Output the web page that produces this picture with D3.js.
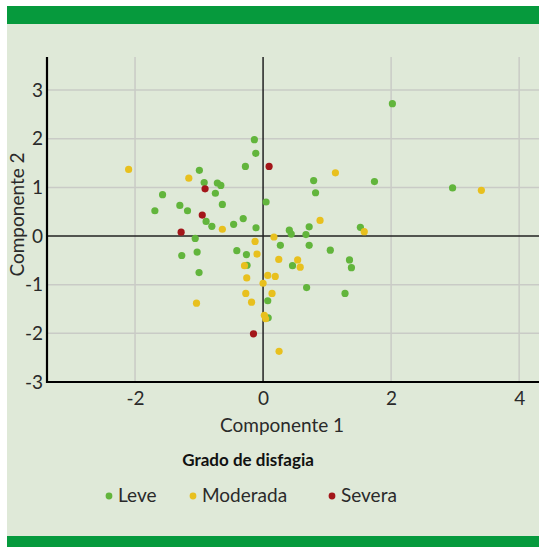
<!DOCTYPE html>
<html><head><meta charset="utf-8">
<script src="https://cdn.jsdelivr.net/npm/d3@7"></script>
<style>
html,body{margin:0;padding:0;background:#fff;}
svg{display:block;font-family:Lato,"Open Sans",sans-serif;}
</style></head>
<body>
<svg id="chart" width="539" height="547"></svg>
<script>
// Data (Componente 1, Componente 2)
const leve = [
 [-0.136,1.98],[-0.114,1.70],[-0.276,1.43],[-0.995,1.35],[-0.92,1.10],[-0.714,1.09],[-0.66,1.04],
 [-1.57,0.85],[-0.745,0.88],[0.047,0.70],[-1.30,0.63],[-0.636,0.65],[-1.69,0.52],[-1.18,0.52],
 [-0.31,0.36],[-0.89,0.30],[-0.80,0.20],[-0.46,0.24],[-0.11,0.17],[-1.06,-0.05],[-1.03,-0.33],
 [-1.27,-0.40],[-0.41,-0.30],[-0.26,-0.38],[-0.25,-0.60],[-1.0,-0.75],[0.073,-1.33],[0.08,-1.68],
 [2.02,2.72],[0.79,1.14],[1.74,1.12],[0.82,0.89],[2.96,0.99],[0.72,0.19],[0.41,0.12],[0.44,0.04],
 [0.67,0.03],[1.52,0.18],[0.27,-0.19],[0.72,-0.19],[1.05,-0.29],[1.35,-0.49],[0.46,-0.61],
 [1.38,-0.65],[0.68,-1.06],[1.28,-1.18]
];
const moderada = [
 [-2.10,1.37],[-1.16,1.19],[-0.636,0.14],[-0.125,-0.11],[-0.094,-0.37],[-0.29,-0.61],[0.073,-0.81],
 [-0.255,-0.86],[0.0,-0.97],[-0.27,-1.18],[0.14,-1.18],[-0.18,-1.36],[-1.04,-1.38],[0.02,-1.63],
 [0.04,-1.70],[1.13,1.30],[3.41,0.94],[0.89,0.32],[0.17,-0.02],[1.58,0.09],[0.245,-0.48],
 [0.54,-0.49],[0.58,-0.64],[0.19,-0.83],[0.25,-2.37]
];
const severa = [
 [0.094,1.43],[-0.906,0.97],[-0.95,0.43],[-1.28,0.08],[-0.15,-2.01]
];
const xTicks = [-2,0,2,4];
const yTicks = [-3,-2,-1,0,1,2,3];
const groups = ["Leve","Moderada","Severa"];
const colors = ["#62b53c","#e8c01e","#a3161a"];
const series = [leve, moderada, severa];

const svg = d3.select("#chart");
// panel
svg.append("rect").attr("x",7).attr("y",6).attr("width",532).attr("height",541).attr("fill","#dfe9d8");
svg.append("rect").attr("x",7).attr("y",6).attr("width",532).attr("height",18).attr("fill","#069a3d");
svg.append("rect").attr("x",7).attr("y",536).attr("width",532).attr("height",11).attr("fill","#069a3d");

const L=47, R=539, T=57, B=382;
const x = d3.scaleLinear().domain([-3.375,4.31]).range([L,R]);
const y = d3.scaleLinear().domain([-3,3.68]).range([B,T]);

// grid
const g = svg.append("g");
g.selectAll(".vg").data(xTicks.filter(d=>d!==0)).join("line")
 .attr("x1",d=>x(d)).attr("x2",d=>x(d)).attr("y1",T).attr("y2",B)
 .attr("stroke","#c9cbc6").attr("stroke-width",1.5);
g.selectAll(".hg").data(yTicks.filter(d=>d!==0 && d!==-3)).join("line")
 .attr("x1",L).attr("x2",R).attr("y1",d=>y(d)).attr("y2",d=>y(d))
 .attr("stroke","#c9cbc6").attr("stroke-width",1.5);
// zero lines
g.append("line").attr("x1",x(0)).attr("x2",x(0)).attr("y1",T).attr("y2",B).attr("stroke","#222").attr("stroke-width",1.5);
g.append("line").attr("x1",L).attr("x2",R).attr("y1",y(0)).attr("y2",y(0)).attr("stroke","#222").attr("stroke-width",1.5);

// axes
const fmt = d => String(d);
const xAxis = svg.append("g").attr("transform",`translate(0,${B})`)
 .call(d3.axisBottom(x).tickValues(xTicks).tickSize(0).tickPadding(10).tickFormat(fmt));
const yAxis = svg.append("g").attr("transform",`translate(${L},0)`)
 .call(d3.axisLeft(y).tickValues(yTicks).tickSize(0).tickPadding(4).tickFormat(fmt));
[xAxis,yAxis].forEach(a=>{
  a.select(".domain").attr("stroke","#000").attr("stroke-width",2.2);
  a.selectAll("text").attr("font-size",19).attr("fill","#2a2a2a").attr("font-family","Lato,'Open Sans',sans-serif");
});
yAxis.select(".domain").attr("d",`M0,${T}V${B+1}`);
xAxis.select(".domain").attr("d",`M${L-1},0H${R}`);

// points
series.forEach((s,i)=>{
  svg.append("g").selectAll("circle").data(s).join("circle")
   .attr("cx",d=>x(d[0])).attr("cy",d=>y(d[1])).attr("r",3.6)
   .attr("fill",colors[i]);
});

// axis titles
svg.append("text").attr("x",x(0)+19).attr("y",432).attr("text-anchor","middle")
 .attr("font-size",19).attr("fill","#2a2a2a").text("Componente 1");
svg.append("text").attr("transform",`translate(24,${(T+B)/2-5}) rotate(-90)`).attr("text-anchor","middle")
 .attr("font-size",19).attr("fill","#2a2a2a").text("Componente 2");

// legend
svg.append("text").attr("x",x(0)-15).attr("y",466).attr("text-anchor","middle")
 .attr("font-size",17).attr("font-weight","bold").attr("fill","#111").text("Grado de disfagia");
const lx = [109,193,332];
groups.forEach((name,i)=>{
  svg.append("circle").attr("cx",lx[i]).attr("cy",496).attr("r",3.4).attr("fill",colors[i]);
  svg.append("text").attr("x",lx[i]+9).attr("y",502).attr("font-size",19).attr("fill","#2a2a2a").text(name);
});
</script>
</body></html>
